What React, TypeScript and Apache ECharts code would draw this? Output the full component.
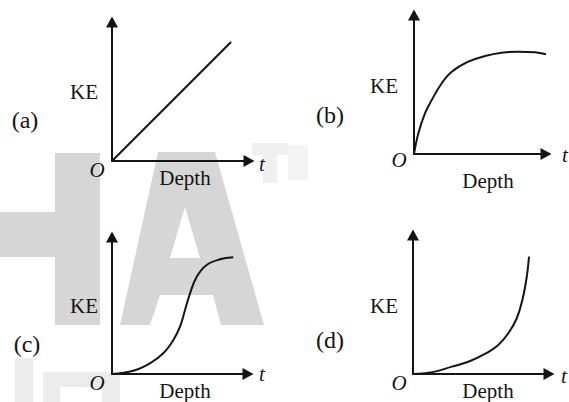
import React, { useEffect, useRef } from "react";
import * as echarts from "echarts";

// Curve data (x: depth units 0..10, y: KE units 0..10)
const seriesA: number[][] = [[0, 0], [8.69, 8.56]];
const seriesB: number[][] = [
  [0, 0], [0.33, 1.49], [0.83, 2.93], [1.34, 3.88], [2.1, 5.09], [2.86, 5.92],
  [4.11, 6.64], [5.38, 7.05], [6.64, 7.29], [7.9, 7.36], [9.17, 7.32], [10, 7.17],
];
const seriesC: number[][] = [
  [0, 0], [1.57, 0.24], [2.79, 0.78], [3.77, 1.51], [4.51, 2.48], [5.0, 3.45],
  [5.37, 4.67], [5.74, 5.89], [6.23, 7.1], [6.96, 7.96], [7.94, 8.37], [8.92, 8.52],
];
const seriesD: number[][] = [
  [0, 0], [1.62, 0.17], [2.85, 0.53], [4.07, 0.88], [5.29, 1.44], [6.27, 2.09],
  [7.01, 2.93], [7.63, 4.01], [8.04, 5.32], [8.29, 6.53], [8.43, 7.48], [8.53, 8.44],
];
const panelTags = ["(a)", "(b)", "(c)", "(d)"];
const yLabel = "KE";
const xLabel = "Depth";
const originLabel = "O";
const axisEndLabel = "t";

const FONT = "Liberation Serif, Times New Roman, serif";
const INK = "#141414";
const WM = "#d6d6d6";
const WM2 = "#ececec";

export default function App() {
  const ref = useRef<HTMLDivElement>(null);
  useEffect(() => {
    if (!ref.current) return;
    const chart = echarts.init(ref.current, undefined, { renderer: "svg" });

    const grids = [
      { left: 112, top: 22, width: 137, height: 139 },
      { left: 414, top: 15, width: 132, height: 139 },
      { left: 112, top: 237, width: 136, height: 137 },
      { left: 413, top: 235, width: 136, height: 139 },
    ];
    const datas = [seriesA, seriesB, seriesC, seriesD];
    const axisLine = {
      show: true,
      onZero: false,
      symbol: ["none", "triangle"],
      symbolSize: [12, 11],
      lineStyle: { color: INK, width: 2 },
    };
    const xAxes = grids.map((_, i) => ({
      type: "value", gridIndex: i, min: 0, max: 10,
      axisLine, axisTick: { show: false }, axisLabel: { show: false }, splitLine: { show: false },
    }));
    const yAxes = grids.map((_, i) => ({
      type: "value", gridIndex: i, min: 0, max: 10,
      axisLine, axisTick: { show: false }, axisLabel: { show: false }, splitLine: { show: false },
    }));
    const series = datas.map((d, i) => ({
      type: "line", xAxisIndex: i, yAxisIndex: i, data: d,
      smooth: i === 0 ? false : 0.4, symbol: "none",
      lineStyle: { color: INK, width: 2 }, z: 5,
    }));

    const txt = (text: string, x: number, y: number, size: number, italic = false) => ({
      type: "text", x, y, z: 10,
      style: {
        text, fill: INK, fontSize: size, fontFamily: FONT,
        fontStyle: italic ? "italic" : "normal",
        align: "center", verticalAlign: "middle",
      },
    });

    // label positions per panel
    const labelPos = [
      { ke: [84, 92], tag: [25, 120], o: [97, 170], t: [262, 164], depth: [185, 178] },
      { ke: [384, 86], tag: [330, 115], o: [399, 160], t: [565, 155], depth: [488, 181] },
      { ke: [84, 306], tag: [27, 344], o: [97, 383], t: [262, 374], depth: [185, 391] },
      { ke: [384, 306], tag: [330, 340], o: [399, 383], t: [564, 376], depth: [488, 391] },
    ];
    const labels: any[] = [];
    labelPos.forEach((p, i) => {
      labels.push(txt(yLabel, p.ke[0], p.ke[1], 21));
      labels.push(txt(panelTags[i], p.tag[0], p.tag[1], 24));
      labels.push(txt(originLabel, p.o[0], p.o[1], 21, true));
      labels.push(txt(axisEndLabel, p.t[0], p.t[1], 21, true));
      labels.push(txt(xLabel, p.depth[0], p.depth[1], 21));
    });

    const rect = (x: number, y: number, w: number, h: number, fill: string) => ({
      type: "rect", z: -10, silent: true, shape: { x, y, width: w, height: h }, style: { fill },
    });
    const watermark: any[] = [
      rect(55, 153, 45, 172, WM),
      rect(0, 212, 55, 45, WM),
      {
        type: "polygon", z: -10, silent: true,
        shape: { points: [[158, 152], [215, 152], [264, 325], [221, 325], [213, 295], [160, 295], [150, 325], [120, 325]] },
        style: { fill: WM },
      },
      {
        type: "polygon", z: -9, silent: true,
        shape: { points: [[185, 207], [170, 258], [200, 258]] },
        style: { fill: "#ffffff" },
      },
      rect(252, 143, 36, 12, "#f0f0f0"),
      rect(263, 143, 14, 40, "#f0f0f0"),
      rect(288, 145, 20, 35, "#f4f4f4"),
      rect(15, 358, 18, 44, WM2),
      rect(43, 375, 17, 27, WM2),
      rect(43, 372, 72, 15, WM2),
      rect(102, 372, 18, 30, WM2),
    ];

    chart.setOption({
      animation: false,
      backgroundColor: "#ffffff",
      grid: grids.map((g) => ({ ...g, containLabel: false })),
      xAxis: xAxes,
      yAxis: yAxes,
      series,
      graphic: [...watermark, ...labels],
    } as any);
    return () => chart.dispose();
  }, []);
  return (
    <div
      ref={ref}
      style={{ position: "fixed", left: 0, top: 0, width: 569, height: 402, background: "#fff" }}
    />
  );
}
